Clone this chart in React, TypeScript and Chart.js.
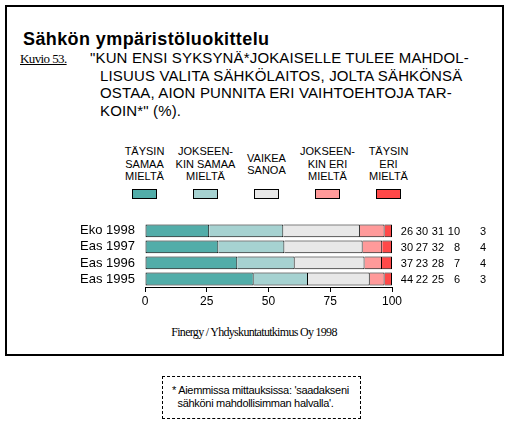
import React, { useEffect, useRef } from 'react';
import { Chart, registerables } from 'chart.js';

Chart.register(...registerables);

const categories = ['Eko 1998', 'Eas 1997', 'Eas 1996', 'Eas 1995'];
const seriesNames = [
  'TÄYSIN\nSAMAA\nMIELTÄ',
  'JOKSEEN-\nKIN SAMAA\nMIELTÄ',
  'VAIKEA\nSANOA',
  'JOKSEEN-\nKIN ERI\nMIELTÄ',
  'TÄYSIN\nERI\nMIELTÄ',
];
const taysinSamaa = [26, 30, 37, 44];
const jokseenkinSamaa = [30, 27, 23, 22];
const vaikeaSanoa = [31, 32, 28, 25];
const jokseenkinEri = [10, 8, 7, 6];
const taysinEri = [3, 4, 4, 3];
const seriesColors = ['#52ADA9', '#A6D2D1', '#E8E8E8', '#FF9A9A', '#FF4848'];

const series = [taysinSamaa, jokseenkinSamaa, vaikeaSanoa, jokseenkinEri, taysinEri];

const SANS = '"Liberation Sans", Arial, sans-serif';
const SERIF = '"Liberation Serif", "Times New Roman", serif';

// value columns to the right of the bars
const valueLabels = {
  id: 'valueLabels',
  afterDatasetsDraw(chart: Chart) {
    const { ctx, chartArea } = chart;
    const yScale = chart.scales.y;
    const offsets = [21, 36, 52, 68, 94];
    ctx.save();
    ctx.font = '11px ' + SANS;
    ctx.fillStyle = '#000';
    ctx.textAlign = 'right';
    ctx.textBaseline = 'middle';
    categories.forEach((_, i) => {
      const y = yScale.getPixelForValue(i);
      series.forEach((s, j) => {
        ctx.fillText(String(s[i]), chartArea.right + offsets[j], y + 1);
      });
    });
    ctx.restore();
  },
};

const BarChart: React.FC = () => {
  const chartRef = useRef<HTMLCanvasElement>(null);
  const chartInstance = useRef<Chart | null>(null);

  useEffect(() => {
    if (!chartRef.current) return;
    if (chartInstance.current) chartInstance.current.destroy();
    const ctx = chartRef.current.getContext('2d');
    if (!ctx) return;

    // rows are scaled to 100 %
    const totals = categories.map((_, i) => series.reduce((a, s) => a + s[i], 0));

    chartInstance.current = new Chart(ctx, {
      type: 'bar',
      data: {
        labels: categories,
        datasets: series.map((s, j) => ({
          label: seriesNames[j].replace(/\n/g, ' '),
          data: s.map((v, i) => (v / totals[i]) * 100),
          backgroundColor: seriesColors[j],
          borderColor: '#000',
          borderWidth: j === 0 ? 1 : { top: 1, bottom: 1, right: 1, left: 0 },
          borderSkipped: false,
          barPercentage: 0.8,
          categoryPercentage: 1,
        })),
      },
      options: {
        indexAxis: 'y',
        responsive: true,
        maintainAspectRatio: false,
        animation: false,
        layout: { padding: { top: 7, right: 116, left: 0, bottom: 0 } },
        plugins: {
          legend: { display: false },
          tooltip: { enabled: false },
        },
        scales: {
          x: {
            stacked: true,
            min: 0,
            max: 100,
            ticks: {
              stepSize: 25,
              color: '#000',
              padding: 2,
              font: { family: SANS, size: 12 },
            },
            grid: {
              drawOnChartArea: false,
              drawTicks: true,
              tickLength: 5,
              color: '#000',
            },
            border: { display: true, color: '#000', width: 1 },
            afterFit: (scale: any) => {
              scale.height = 23;
            },
          },
          y: {
            stacked: true,
            ticks: {
              color: '#000',
              padding: 10,
              autoSkip: false,
              font: { family: SANS, size: 13 },
            },
            grid: { display: false, drawTicks: false },
            border: { display: false },
            afterFit: (scale: any) => {
              scale.width = 145;
            },
          },
        },
      },
      plugins: [valueLabels],
    });

    return () => {
      if (chartInstance.current) {
        chartInstance.current.destroy();
        chartInstance.current = null;
      }
    };
  }, []);

  return (
    <div style={{ position: 'absolute', left: 0, top: 205, width: 508, height: 105 }}>
      <canvas ref={chartRef} />
    </div>
  );
};

const quoteLines = [
  '"KUN ENSI SYKSYNÄ*JOKAISELLE TULEE MAHDOL-',
  'LISUUS VALITA SÄHKÖLAITOS, JOLTA SÄHKÖNSÄ',
  'OSTAA, AION PUNNITA ERI VAIHTOEHTOJA TAR-',
  'KOIN*" (%).',
];

export default function App() {
  return (
    <div
      style={{
        position: 'fixed',
        left: 0,
        top: 0,
        width: 508,
        height: 433,
        background: '#fff',
        color: '#000',
        fontFamily: SANS,
      }}
    >
      <div
        style={{
          position: 'absolute',
          left: 5,
          top: 5,
          width: 499,
          height: 351,
          border: '2px solid #000',
          boxSizing: 'border-box',
        }}
      />
      <div
        style={{
          position: 'absolute',
          left: 23,
          top: 30,
          fontSize: 18,
          lineHeight: '18px',
          fontWeight: 'bold',
          letterSpacing: 0.4,
          whiteSpace: 'nowrap',
        }}
      >
        Sähkön ympäristöluokittelu
      </div>
      <div
        style={{
          position: 'absolute',
          left: 20,
          top: 51,
          fontFamily: SERIF,
          fontSize: 13,
          lineHeight: '15px',
          textDecoration: 'underline',
          letterSpacing: -0.6,
          whiteSpace: 'nowrap',
        }}
      >
        Kuvio 53.
      </div>
      {quoteLines.map((line, i) => (
        <div
          key={i}
          style={{
            position: 'absolute',
            left: i === 0 ? 90 : 100,
            top: 50 + i * 17.7,
            fontSize: 15,
            lineHeight: '15px',
            letterSpacing: 0.15,
            whiteSpace: 'nowrap',
          }}
        >
          {line}
        </div>
      ))}
      <div style={{ position: 'absolute', left: 114, top: 145, display: 'flex' }}>
        {seriesNames.map((name, j) => (
          <div key={j} style={{ width: 61, display: 'flex', flexDirection: 'column', alignItems: 'center' }}>
            <div
              style={{
                height: 38,
                display: 'flex',
                flexDirection: 'column',
                justifyContent: 'center',
                textAlign: 'center',
                fontSize: 11,
                lineHeight: '12.5px',
                whiteSpace: 'pre',
              }}
            >
              {name}
            </div>
            <div
              style={{
                marginTop: 6,
                width: 25,
                height: 10,
                boxSizing: 'border-box',
                border: '1px solid #000',
                background: seriesColors[j],
              }}
            />
          </div>
        ))}
      </div>
      <BarChart />
      <div
        style={{
          position: 'absolute',
          left: 0,
          width: 508,
          top: 325,
          textAlign: 'center',
          fontFamily: SERIF,
          fontSize: 12,
          lineHeight: '14px',
          letterSpacing: -0.7,
          whiteSpace: 'nowrap',
        }}
      >
        Finergy / Yhdyskuntatutkimus Oy 1998
      </div>
      <div
        style={{
          position: 'absolute',
          left: 162,
          top: 376,
          width: 199,
          height: 43,
          boxSizing: 'border-box',
          border: '1px dashed #000',
          fontSize: 11,
          lineHeight: '13px',
          letterSpacing: -0.3,
          padding: '7px 0 0 9px',
          whiteSpace: 'pre',
        }}
      >
        {'* Aiemmissa mittauksissa: \'saadakseni\n  sähköni mahdollisimman halvalla\'.'}
      </div>
    </div>
  );
}
